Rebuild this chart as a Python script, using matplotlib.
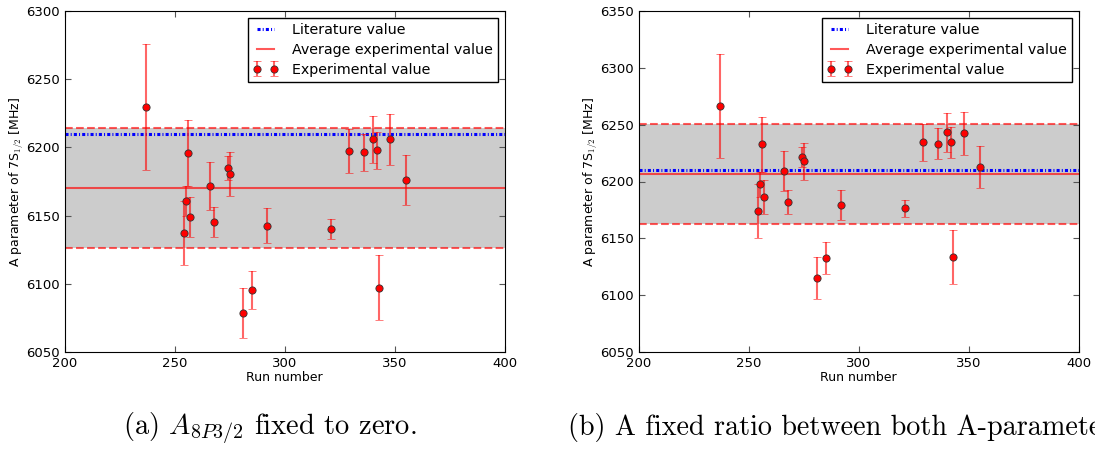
import numpy as np
import matplotlib
matplotlib.use("Agg")
import matplotlib.pyplot as plt

# run numbers shared by both fits
runs = [237, 254, 255, 256, 257, 266, 268, 274, 275, 281,
        285, 292, 321, 329, 336, 340, 342, 343, 348, 355]
# (a) A_8P3/2 fixed to zero
a_fixed = [6229.6, 6137.2, 6160.7, 6195.9, 6149.0, 6171.9, 6145.3, 6184.9, 6180.7, 6078.8,
           6095.5, 6142.6, 6140.0, 6197.4, 6196.4, 6205.9, 6197.9, 6097.1, 6205.9, 6175.9]
# (b) fixed ratio between both A-parameters
a_ratio = [6266.4, 6174.2, 6197.4, 6232.6, 6186.0, 6208.9, 6181.9, 6221.5, 6217.7, 6115.0,
           6132.6, 6179.2, 6176.3, 6234.4, 6233.2, 6243.2, 6234.4, 6133.5, 6242.3, 6212.7]
err = [46.0, 23.5, 11.0, 24.3, 15.0, 17.5, 10.8, 8.5, 16.0, 18.4,
       14.2, 13.0, 7.2, 16.3, 13.5, 17.4, 13.4, 23.7, 18.8, 18.4]

literature = 6210.0
avg_a, band_a = 6170.0, 44.0
avg_b, band_b = 6206.6, 43.8

ylims = [(6050, 6300), (6050, 6350)]
captions = [r"(a) $A_{8P3/2}$ fixed to zero.",
            "(b) A fixed ratio between both A-parameters."]

plt.rcParams["mathtext.fontset"] = "cm"
plt.rcParams["legend.numpoints"] = 2

W, H = 1095, 450
fig = plt.figure(figsize=(W / 100, H / 100), dpi=100)
fig.patch.set_facecolor("white")

lefts = [64.7, 638.7]
for k, (vals, avg, band) in enumerate([(a_fixed, avg_a, band_a), (a_ratio, avg_b, band_b)]):
    ax = fig.add_axes([lefts[k] / W, 1 - 352 / H, 440 / W, 341 / H])
    ax.axhspan(avg - band, avg + band, color="#cccccc", lw=0, zorder=0)
    ax.axhline(avg + band, color="red", ls="--", lw=1.5, alpha=0.65, zorder=1)
    ax.axhline(avg - band, color="red", ls="--", lw=1.5, alpha=0.65, zorder=1)
    ax.axhline(literature, color="blue", lw=2.2, ls=(0, (1, 0.7, 0.33, 0.7)),
               label="Literature value", zorder=2)
    ax.axhline(avg, color="red", lw=1.5, alpha=0.65,
               label="Average experimental value", zorder=2)
    ax.errorbar(runs, vals, yerr=err, fmt="o", color="red", ms=5.2, mec="#333333",
                mew=0.6, ecolor=(1, 0, 0, 0.6), elinewidth=1.5, capsize=3,
                capthick=1.5, label="Experimental value", zorder=3)
    ax.set_xlim(200, 400)
    ax.set_ylim(*ylims[k])
    ax.set_xticks(np.arange(200, 401, 50))
    ax.set_yticks(np.arange(ylims[k][0], ylims[k][1] + 1, 50))
    ax.tick_params(direction="in", top=True, right=True, labelsize=9.5,
                   length=4, color="#555555")
    ax.set_xlabel("Run number", fontsize=9, labelpad=1)
    ax.set_ylabel(r"A parameter of 7S$_{1/2}$ [MHz]", fontsize=9, labelpad=0)
    leg = ax.legend(loc="upper right", fontsize=10.3, fancybox=False,
                    framealpha=1, borderaxespad=0.5, handlelength=1.8,
                    handletextpad=0.9, labelspacing=0.4, borderpad=0.35)
    leg.get_frame().set_edgecolor("black")
    leg.get_frame().set_linewidth(1.0)

fig.text(123 / W, 1 - 428 / H, captions[0], ha="left", va="center",
         fontsize=20.5, family="cmr10")
fig.text(568 / W, 1 - 428 / H, captions[1], ha="left", va="center",
         fontsize=20.3, family="cmr10")

fig.savefig("out.png", dpi=100, facecolor="white")
